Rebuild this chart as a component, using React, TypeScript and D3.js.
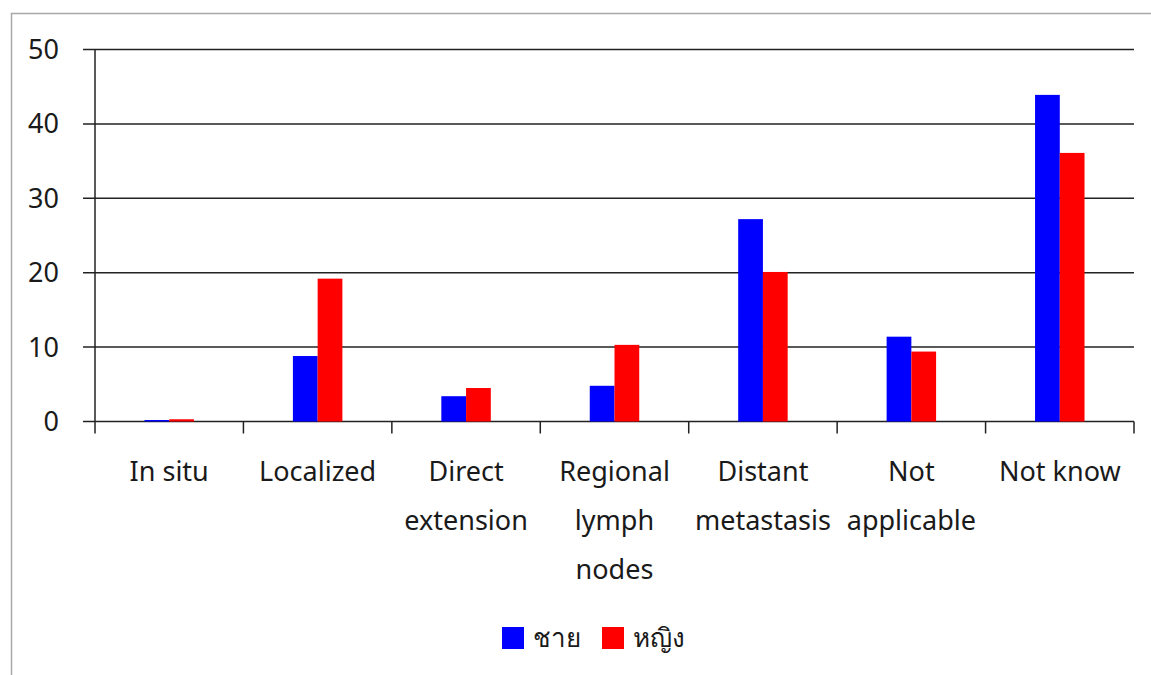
import React, { useEffect, useRef } from 'react';
import * as d3 from 'd3';

// stage of disease at diagnosis, percent by sex
const CATEGORIES: string[][] = [
  ['In situ'],
  ['Localized'],
  ['Direct', 'extension'],
  ['Regional', 'lymph', 'nodes'],
  ['Distant', 'metastasis'],
  ['Not', 'applicable'],
  ['Not know'],
];
const SERIES_NAMES = ['ชาย', 'หญิง'];
const MALE = [0.2, 8.8, 3.4, 4.8, 27.2, 11.4, 43.9];
const FEMALE = [0.3, 19.2, 4.5, 10.3, 20.1, 9.4, 36.1];
const Y_TICKS = [0, 10, 20, 30, 40, 50];
const COLORS = ['#0000ff', '#ff0000'];

const FONT = '"Noto Sans", "Open Sans", sans-serif';

export default function App() {
  const svgRef = useRef<SVGSVGElement>(null);

  useEffect(() => {
    if (!svgRef.current) return;
    const W = 1151;
    const H = 675;
    const left = 95;
    const right = 1134;
    const top = 49.5;
    const bottom = 421.5;

    const svg = d3.select(svgRef.current);
    svg.selectAll('*').remove();

    svg.append('rect').attr('width', W).attr('height', H).attr('fill', '#fff');

    // outer frame (top + left only)
    svg.append('path')
      .attr('d', `M11.5,${H} V13.5 H${W}`)
      .attr('fill', 'none')
      .attr('stroke', '#a8a8a8')
      .attr('stroke-width', 1.5);

    const x = d3.scaleBand<number>()
      .domain(d3.range(CATEGORIES.length))
      .range([left, right]);
    const y = d3.scaleLinear().domain([0, 50]).range([bottom, top]);

    const inner = d3.scaleBand<number>()
      .domain([0, 1])
      .range([0, x.bandwidth()])
      .paddingOuter(2);

    // gridlines
    svg.append('g')
      .selectAll('line')
      .data(Y_TICKS)
      .join('line')
      .attr('x1', left - 12)
      .attr('x2', right)
      .attr('y1', d => y(d))
      .attr('y2', d => y(d))
      .attr('stroke', '#222')
      .attr('stroke-width', 1.5);

    // y tick labels
    svg.append('g')
      .selectAll('text')
      .data(Y_TICKS)
      .join('text')
      .attr('x', 59)
      .attr('y', d => y(d))
      .attr('dy', '0.35em')
      .attr('text-anchor', 'end')
      .attr('font-family', FONT)
      .attr('font-size', 27)
      .attr('fill', '#1a1a1a')
      .text(d => d);

    // bars
    const series = [MALE, FEMALE];
    series.forEach((vals, si) => {
      svg.append('g')
        .selectAll('rect')
        .data(vals)
        .join('rect')
        .attr('x', (_, i) => (x(i) ?? 0) + (inner(si) ?? 0))
        .attr('width', inner.bandwidth())
        .attr('y', d => y(d))
        .attr('height', d => y(0) - y(d))
        .attr('fill', COLORS[si]);
    });

    // y axis line
    svg.append('line')
      .attr('x1', left).attr('x2', left)
      .attr('y1', top).attr('y2', bottom + 12)
      .attr('stroke', '#222').attr('stroke-width', 1.5);

    // category ticks
    const edges = d3.range(CATEGORIES.length + 1).map(i => left + i * x.bandwidth());
    svg.append('g')
      .selectAll('line')
      .data(edges.slice(1))
      .join('line')
      .attr('x1', d => d).attr('x2', d => d)
      .attr('y1', bottom).attr('y2', bottom + 12)
      .attr('stroke', '#222').attr('stroke-width', 1.5);

    // category labels
    const labels = svg.append('g')
      .selectAll('text')
      .data(CATEGORIES)
      .join('text')
      .attr('x', (_, i) => (x(i) ?? 0) + x.bandwidth() / 2)
      .attr('y', 472)
      .attr('text-anchor', 'middle')
      .attr('font-family', FONT)
      .attr('font-size', 27)
      .attr('fill', '#1a1a1a');
    labels.selectAll('tspan')
      .data(d => d)
      .join('tspan')
      .attr('x', function () {
        return (this.parentNode as SVGTextElement).getAttribute('x');
      })
      .attr('dy', (_, j) => (j === 0 ? '0.35em' : 49))
      .text(d => d);

    // legend
    const legendX = [502, 602];
    const lg = svg.append('g');
    SERIES_NAMES.forEach((name, i) => {
      lg.append('rect')
        .attr('x', legendX[i]).attr('y', 627)
        .attr('width', 22).attr('height', 22)
        .attr('fill', COLORS[i]);
      lg.append('text')
        .attr('x', legendX[i] + 31).attr('y', 638)
        .attr('dy', '0.35em')
        .attr('font-family', FONT)
        .attr('font-size', 26)
        .attr('fill', '#1a1a1a')
        .text(name);
    });
  }, []);

  return (
    <svg
      ref={svgRef}
      width={1151}
      height={675}
      style={{ position: 'absolute', left: 0, top: 0 }}
    />
  );
}
